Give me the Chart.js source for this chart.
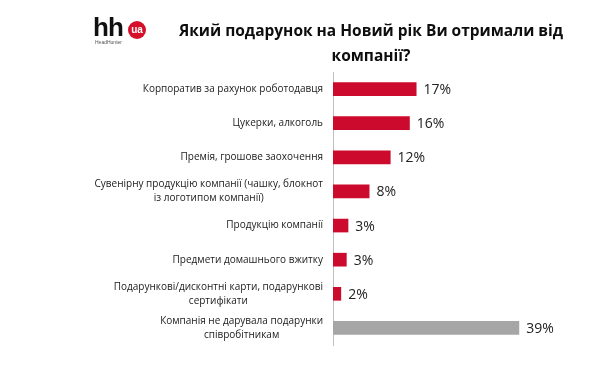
<!DOCTYPE html>
<html>
<head>
<meta charset="utf-8">
<script src="https://cdn.jsdelivr.net/npm/chart.js@4/dist/chart.umd.min.js"></script>
<style>
  html, body { margin: 0; padding: 0; background: #fff; }
  #wrap { position: relative; width: 600px; height: 366px; overflow: hidden; }
  #c { position: absolute; left: 0; top: 0; }
  #title { position: absolute; left: 170px; width: 402px; top: 18px; text-align: center;
           font-family: "Open Sans", sans-serif; font-weight: 700; font-size: 15.5px; line-height: 25px; color: #0d0d0d; }
  #hh { position: absolute; left: 93px; top: 12px; font-family: "Liberation Sans", Arial, sans-serif;
        font-weight: 700; font-size: 26px; letter-spacing: -1px; color: #111; line-height: 30px; }
  #ua { position: absolute; left: 128px; top: 21px; width: 18px; height: 18px; border-radius: 50%;
        background: #d6102b; color: #fff; font-family: "Liberation Sans", Arial, sans-serif; font-weight: 700;
        font-size: 10px; line-height: 17px; text-align: center; }
  #hht { position: absolute; left: 95px; top: 39px; font-family: "Liberation Sans", Arial, sans-serif;
         font-size: 5px; color: #555; line-height: 6px; }
</style>
</head>
<body>
<div id="wrap">
  <canvas id="c" width="600" height="366"></canvas>
  <div id="hh">hh</div>
  <div id="ua">ua</div>
  <div id="hht">HeadHunter</div>
  <div id="title">Який подарунок на Новий рік Ви отримали від<br>компанії?</div>
</div>
<script>
const categories = [
  ["Корпоратив за рахунок роботодавця"],
  ["Цукерки, алкоголь"],
  ["Премія, грошове заохочення"],
  ["Сувенірну продукцію компанії (чашку, блокнот", "із логотипом компанії)"],
  ["Продукцію компанії"],
  ["Предмети домашнього вжитку"],
  ["Подарункові/дисконтні карти, подарункові", "сертифікати"],
  ["Компанія не дарувала подарунки", "співробітникам"]
];
const shares = [17.4, 16.0, 12.0, 7.6, 3.2, 2.85, 1.7, 38.8];
const barColors = ["#cc0a2d", "#cc0a2d", "#cc0a2d", "#cc0a2d", "#cc0a2d", "#cc0a2d", "#cc0a2d", "#a6a6a6"];

const LABEL_FONT = '10px "Open Sans", sans-serif';
const LINE_H = 14;

const catLabelPlugin = {
  id: 'catLabels',
  afterDraw(chart) {
    const ctx = chart.ctx;
    const y = chart.scales.y;
    const right = chart.chartArea.left - 10;
    ctx.save();
    ctx.font = LABEL_FONT;
    ctx.fillStyle = '#1a1a1a';
    ctx.textBaseline = 'middle';
    ctx.textAlign = 'center';
    categories.forEach((lines, i) => {
      const cy = y.getPixelForTick(i);
      const w = Math.max(...lines.map(l => ctx.measureText(l).width));
      const cx = right - w / 2;
      const y0 = cy - (lines.length - 1) * LINE_H / 2;
      lines.forEach((l, j) => ctx.fillText(l, cx, y0 + j * LINE_H));
    });
    ctx.restore();
  }
};

const valueLabelPlugin = {
  id: 'valueLabels',
  afterDatasetsDraw(chart) {
    const ctx = chart.ctx;
    const meta = chart.getDatasetMeta(0);
    ctx.save();
    ctx.font = '14px "Open Sans", sans-serif';
    ctx.fillStyle = '#222';
    ctx.textBaseline = 'middle';
    ctx.textAlign = 'left';
    meta.data.forEach((bar, i) => {
      ctx.fillText(Math.round(shares[i]) + '%', bar.x + 7, bar.y + 1);
    });
    ctx.restore();
  }
};

new Chart(document.getElementById('c'), {
  type: 'bar',
  data: {
    labels: categories.map(l => l.join(' ')),
    datasets: [{
      data: shares,
      backgroundColor: barColors,
      borderWidth: 0,
      barPercentage: 0.4,
      categoryPercentage: 1.0
    }]
  },
  options: {
    indexAxis: 'y',
    responsive: false,
    animation: false,
    devicePixelRatio: 1,
    layout: { padding: { left: 0, right: 27, top: 72, bottom: 21 } },
    plugins: { legend: { display: false }, tooltip: { enabled: false } },
    scales: {
      x: { display: false, min: 0, max: 50 },
      y: {
        ticks: { display: false },
        grid: { display: false },
        border: { display: true, color: '#c0c0c0', width: 1 },
        afterFit(scale) { scale.width = 333; }
      }
    }
  },
  plugins: [catLabelPlugin, valueLabelPlugin]
});
</script>
</body>
</html>
